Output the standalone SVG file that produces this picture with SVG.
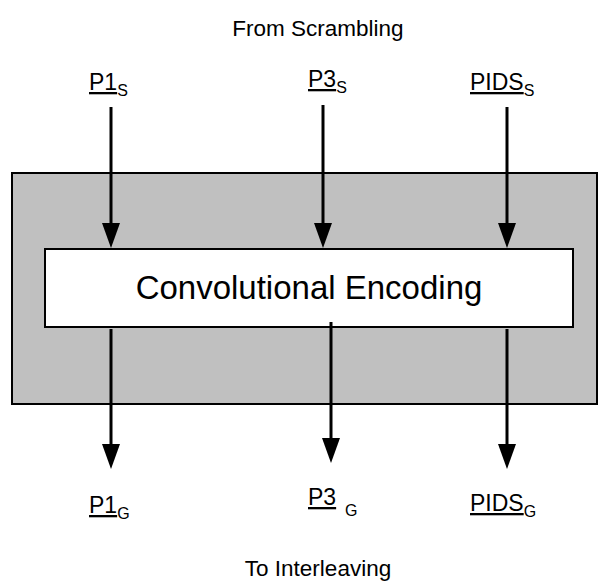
<svg xmlns="http://www.w3.org/2000/svg" width="599" height="582" viewBox="0 0 599 582">
  <style>
    .lbl { font-family: "Liberation Sans", Arial, sans-serif; font-size: 23px; fill: #000; }
    .sub { font-size: 16px; }
    .u { text-decoration: underline; }
    .title { font-family: "Liberation Sans", Arial, sans-serif; font-size: 22.5px; fill: #000; text-anchor: middle; }
    .big { font-family: "Liberation Sans", Arial, sans-serif; font-size: 33px; fill: #000; text-anchor: middle; }
    .conn { stroke: #000; stroke-width: 3; fill: none; marker-end: url(#ah); }
  </style>
  <defs>
    <marker id="ah" markerUnits="userSpaceOnUse" viewBox="0 0 25 18" markerWidth="25" markerHeight="18" refX="0" refY="9" orient="auto">
      <path d="M0,0 L25,9 L0,18 z" fill="#000"/>
    </marker>
  </defs>
  <rect width="599" height="582" fill="#fff"/>
  <g id="outer">
    <rect x="12" y="173" width="585" height="231" fill="#c0c0c0" stroke="#000" stroke-width="2"/>
  </g>
  <g id="encoder">
    <rect x="45" y="249" width="528" height="78" fill="#fff" stroke="#000" stroke-width="2"/>
    <text class="big" x="309" y="299">Convolutional Encoding</text>
  </g>
  <g id="labels-in">
    <text class="title" x="318" y="36">From Scrambling</text>
    <text class="lbl" x="89" y="90"><tspan class="u">P1</tspan><tspan class="sub" dy="6">S</tspan></text>
    <text class="lbl" x="308" y="87"><tspan class="u">P3</tspan><tspan class="sub" dy="6">S</tspan></text>
    <text class="lbl" x="470" y="90"><tspan class="u">PIDS</tspan><tspan class="sub" dy="6">S</tspan></text>
  </g>
  <g id="labels-out">
    <text class="lbl" x="89" y="513"><tspan class="u">P1</tspan><tspan class="sub" dy="6">G</tspan></text>
    <text class="lbl" x="308" y="505"><tspan class="u">P3</tspan><tspan class="sub" x="345" dy="11">G</tspan></text>
    <text class="lbl" x="470" y="511"><tspan class="u">PIDS</tspan><tspan class="sub" dy="6">G</tspan></text>
    <text class="title" x="318" y="576">To Interleaving</text>
  </g>
  <g id="connectors">
    <line class="conn" x1="111" y1="107" x2="111" y2="223"/>
    <line class="conn" x1="323" y1="105" x2="323" y2="223"/>
    <line class="conn" x1="507" y1="107" x2="507" y2="223"/>
    <line class="conn" x1="111" y1="329" x2="111" y2="444"/>
    <line class="conn" x1="331" y1="322" x2="331" y2="438"/>
    <line class="conn" x1="507" y1="329" x2="507" y2="444"/>
  </g>
</svg>
